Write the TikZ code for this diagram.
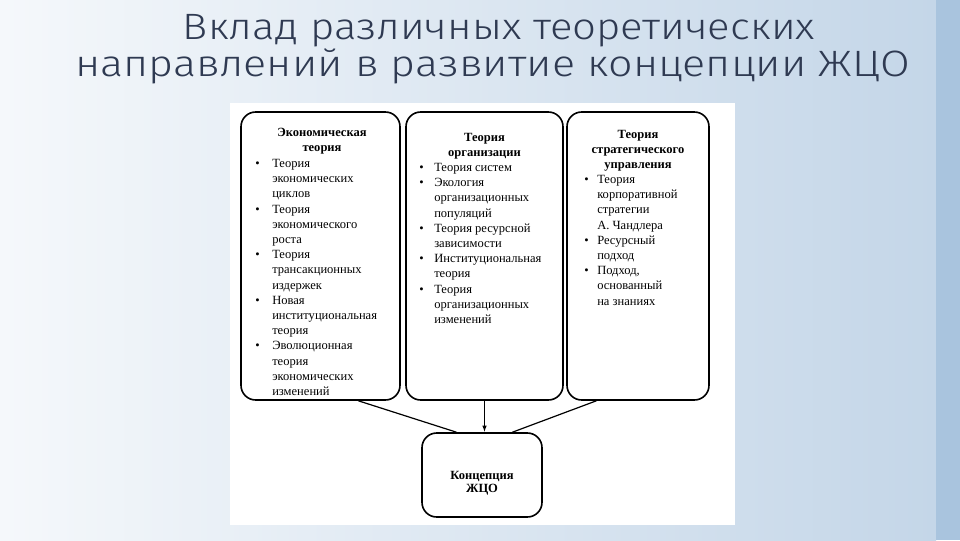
\documentclass[tikz,border=0pt]{standalone}
\usepackage{fontspec}
\usepackage{graphicx}
\setmainfont{Liberation Serif}
\newfontfamily\titlefont{Fira Sans Light}
\usetikzlibrary{arrows.meta,calc}
\definecolor{bgl}{HTML}{F5F8FB}
\definecolor{bgr}{HTML}{C4D6E8}
\definecolor{edgeband}{HTML}{A9C4DE}
\definecolor{titlec}{HTML}{2F3A52}
\newcommand\myb[2]{\makebox[#1][l]{\textbullet}#2}
\newcommand\myc[2]{\hspace*{#1}#2}
\begin{document}
\begin{tikzpicture}[x=0.75pt,y=-0.75pt,
  box/.style={draw=black, line width=1.2pt, rounded corners=11pt, fill=white, inner sep=0pt},
  txt/.style={font=\fontsize{9.4}{11.4}\selectfont, inner sep=0pt, align=left, anchor=north west},
  hdr/.style={font=\fontsize{9.4}{11.4}\selectfont\bfseries, inner sep=0pt, align=center, anchor=north},
  ttl/.style={font=\titlefont\fontsize{27.5}{30}\selectfont, text=titlec, inner sep=0pt, anchor=base},
  conn/.style={draw=black, line width=0.9pt}]
\useasboundingbox (0,0) rectangle (960,540);
% background
\shade[left color=bgl, right color=bgr] (0,0) rectangle (936,540);
\fill[edgeband] (936,0) rectangle (960,540);
\fill[white] (230,103) rectangle (735,525);
% title
\node[ttl] (t1) at (499,39) {\resizebox{474pt}{\height}{Вклад различных теоретических}};
\node[ttl] (t2) at (492.5,76) {\resizebox{626pt}{\height}{направлений в развитие концепции ЖЦО}};
% boxes
\node[box, minimum width=119.25pt, minimum height=216pt] (b1) at (320.5,256) {};
\node[box, minimum width=117.75pt, minimum height=216pt] (b2) at (484.5,256) {};
\node[box, minimum width=106.5pt, minimum height=216pt] (b3) at (638,256) {};
\node[box, minimum width=90pt, minimum height=63pt] (c) at (482,475) {};
% box 1 text
\node[hdr] (h1) at (322,128) {Экономическая\\теория};
\node[txt] (l1) at (255,159) {\myb{12.75pt}{Теория}\\
\myc{12.75pt}{экономических}\\
\myc{12.75pt}{циклов}\\
\myb{12.75pt}{Теория}\\
\myc{12.75pt}{экономического}\\
\myc{12.75pt}{роста}\\
\myb{12.75pt}{Теория}\\
\myc{12.75pt}{трансакционных}\\
\myc{12.75pt}{издержек}\\
\myb{12.75pt}{Новая}\\
\myc{12.75pt}{институциональная}\\
\myc{12.75pt}{теория}\\
\myb{12.75pt}{Эволюционная}\\
\myc{12.75pt}{теория}\\
\myc{12.75pt}{экономических}\\
\myc{12.75pt}{изменений}};
% box 2 text
\node[hdr] (h2) at (484.5,133) {Теория\\организации};
\node[txt] (l2) at (419,163) {\myb{11.25pt}{Теория систем}\\
\myb{11.25pt}{Экология}\\
\myc{11.25pt}{организационных}\\
\myc{11.25pt}{популяций}\\
\myb{11.25pt}{Теория ресурсной}\\
\myc{11.25pt}{зависимости}\\
\myb{11.25pt}{Институциональная}\\
\myc{11.25pt}{теория}\\
\myb{11.25pt}{Теория}\\
\myc{11.25pt}{организационных}\\
\myc{11.25pt}{изменений}};
% box 3 text
\node[hdr] (h3) at (638,130) {Теория\\стратегического\\управления};
\node[txt] (l3) at (584,175) {\myb{9.75pt}{Теория}\\
\myc{9.75pt}{корпоративной}\\
\myc{9.75pt}{стратегии}\\
\myc{9.75pt}{А. Чандлера}\\
\myb{9.75pt}{Ресурсный}\\
\myc{9.75pt}{подход}\\
\myb{9.75pt}{Подход,}\\
\myc{9.75pt}{основанный}\\
\myc{9.75pt}{на знаниях}};
% bottom text
\node[hdr, anchor=center, font=\fontsize{9.4}{10}\selectfont\bfseries] (ct) at (482,483) {Концепция\\ЖЦО};
% connectors
\draw[conn] ($(b1.south west)!0.736!(b1.south east)$) -- ($(c.north west)!0.29!(c.north east)$);
\draw[conn, -{Latex[length=5pt,width=3.5pt]}] (b2.south) -- (b2.south |- c.north);
\draw[conn] ($(b3.south west)!0.21!(b3.south east)$) -- ($(c.north west)!0.75!(c.north east)$);
\end{tikzpicture}
\end{document}
